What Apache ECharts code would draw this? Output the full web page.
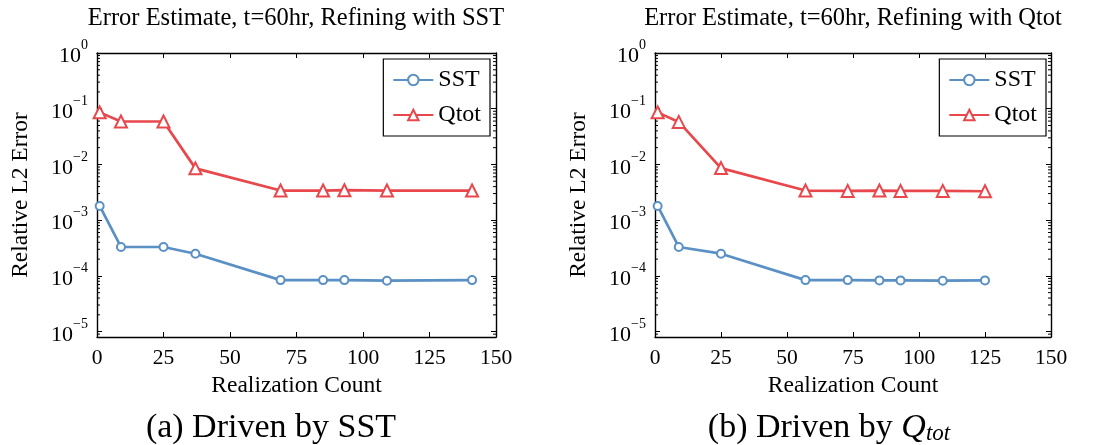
<!DOCTYPE html>
<html>
<head>
<meta charset="utf-8">
<script src="https://cdn.jsdelivr.net/npm/echarts@6/dist/echarts.min.js"></script>
<style>
  html, body { margin: 0; padding: 0; background: #fff; }
  #chart { width: 1094px; height: 445px; }
</style>
</head>
<body>
<div id="chart"></div>
<script>
// Realization counts and relative L2 errors for the two refinement runs
const countsA = [1, 9, 25, 37, 69, 85, 93, 109, 141];
const sstA    = [1.8e-3, 3.3e-4, 3.3e-4, 2.5e-4, 8.4e-5, 8.4e-5, 8.4e-5, 8.2e-5, 8.4e-5];
const qtotA   = [0.086, 0.059, 0.059, 8.5e-3, 3.4e-3, 3.4e-3, 3.45e-3, 3.4e-3, 3.4e-3];

const countsB = [1, 9, 25, 57, 73, 85, 93, 109, 125];
const sstB    = [1.8e-3, 3.3e-4, 2.5e-4, 8.4e-5, 8.4e-5, 8.3e-5, 8.3e-5, 8.2e-5, 8.3e-5];
const qtotB   = [0.086, 0.058, 8.6e-3, 3.4e-3, 3.35e-3, 3.4e-3, 3.35e-3, 3.35e-3, 3.3e-3];

const seriesNames = ['SST', 'Qtot'];
const titles = ['Error Estimate, t=60hr, Refining with SST', 'Error Estimate, t=60hr, Refining with Qtot'];
const xName = 'Realization Count';
const yName = 'Relative L2 Error';

// Axis ranges
const xMin = 0, xMax = 150, xStep = 25;
const yMin = 8e-6, yMax = 1;

// Minor log ticks (2..9 within each decade)
const minorTicks = [];
for (let k = -6; k < 0; k++) {
  for (let m = 2; m <= 9; m++) {
    const v = m * Math.pow(10, k);
    if (v > yMin && v < yMax) minorTicks.push(v);
  }
}

const FONT = 'Liberation Serif';
const BLUE = '#5a90c4';
const RED = '#e8474c';

const chart = echarts.init(document.getElementById('chart'), null, { renderer: 'canvas' });

const grids = [
  { left: 97, top: 53, width: 399, height: 284 },
  { left: 655, top: 53, width: 396, height: 284 }
];

function yLabel(v) {
  const l = Math.log10(v);
  const e = Math.round(l);
  if (Math.abs(l - e) > 1e-6) return '';
  return '{b|10}{e|' + (e < 0 ? '\u2212' + (-e) : e) + '}';
}

const xAxes = [];
const yAxes = [];
grids.forEach((g, i) => {
  const common = {
    gridIndex: i, type: 'value', min: xMin, max: xMax, interval: xStep,
    splitLine: { show: false },
    axisLine: { onZero: false, lineStyle: { color: '#000', width: 1.4 } },
    axisTick: { inside: true, length: 5, lineStyle: { color: '#000', width: 1 } }
  };
  xAxes.push(Object.assign({}, common, {
    position: 'bottom',
    name: xName, nameLocation: 'middle', nameGap: 37,
    nameTextStyle: { fontFamily: FONT, fontSize: 23.5, color: '#000' },
    axisLabel: { fontFamily: FONT, fontSize: 21.5, color: '#000', margin: 10 }
  }));
  xAxes.push(Object.assign({}, common, { position: 'top', axisLabel: { show: false } }));

  const ycommon = {
    gridIndex: i, type: 'log', logBase: 10, min: yMin, max: yMax,
    splitLine: { show: false },
    axisLine: { onZero: false, lineStyle: { color: '#000', width: 1.4 } },
    axisTick: { inside: true, length: 5, lineStyle: { color: '#000', width: 1 } }
  };
  yAxes.push(Object.assign({}, ycommon, {
    position: 'left',
    name: yName, nameLocation: 'middle', nameGap: 64, nameRotate: 90,
    nameTextStyle: { fontFamily: FONT, fontSize: 23.5, color: '#000' },
    axisLabel: {
      margin: 9, formatter: yLabel,
      rich: {
        b: { fontFamily: FONT, fontSize: 22, color: '#000', padding: [7, 0, 0, 0] },
        e: { fontFamily: FONT, fontSize: 14, color: '#000', verticalAlign: 'top' }
      }
    }
  }));
  yAxes.push(Object.assign({}, ycommon, { position: 'right', axisLabel: { show: false } }));
});

function minorTickSeries(i) {
  return {
    type: 'custom', xAxisIndex: i * 2, yAxisIndex: i * 2, silent: true, z: 5,
    data: minorTicks.map(v => [xMin, v]),
    renderItem: function (params, api) {
      const v = api.value(1);
      const pl = api.coord([xMin, v]);
      const pr = api.coord([xMax, v]);
      const st = { stroke: '#000', lineWidth: 1 };
      return {
        type: 'group',
        children: [
          { type: 'line', shape: { x1: pl[0], y1: pl[1], x2: pl[0] + 3, y2: pl[1] }, style: st },
          { type: 'line', shape: { x1: pr[0], y1: pr[1], x2: pr[0] - 3, y2: pr[1] }, style: st }
        ]
      };
    }
  };
}

function lineSeries(name, xs, ys, i, color, symbol, size) {
  return {
    name: name, type: 'line', xAxisIndex: i * 2, yAxisIndex: i * 2,
    data: xs.map((x, k) => [x, ys[k]]),
    symbol: symbol, symbolSize: size, showSymbol: true,
    lineStyle: { color: color, width: 2.7 },
    itemStyle: { color: color, borderColor: color, borderWidth: 2.6 },
    z: 10, animation: false
  };
}

const series = [
  minorTickSeries(0), minorTickSeries(1),
  lineSeries('SST', countsA, sstA, 0, BLUE, 'emptyCircle', 8),
  lineSeries('Qtot', countsA, qtotA, 0, RED, 'emptyTriangle', 12),
  lineSeries('SST', countsB, sstB, 1, BLUE, 'emptyCircle', 8),
  lineSeries('Qtot', countsB, qtotB, 1, RED, 'emptyTriangle', 12)
];

function legendAt(right) {
  return {
    orient: 'vertical', right: right, top: 59,
    data: seriesNames,
    backgroundColor: '#fff', borderColor: '#000', borderWidth: 1.2,
    padding: [9, 9, 9, 9], itemWidth: 40, itemHeight: 13, itemGap: 11,
    selectedMode: false,
    textStyle: { fontFamily: FONT, fontSize: 24, color: '#000', lineHeight: 22 }
  };
}

const textEl = (x, y, text, size, rich) => ({
  type: 'text', x: x, y: y,
  style: {
    text: text, fill: '#000', font: size + 'px "' + FONT + '"',
    fontFamily: FONT, fontSize: size,
    textAlign: 'center', textVerticalAlign: 'middle', rich: rich
  }
});

chart.setOption({
  animation: false,
  backgroundColor: '#fff',
  grid: grids,
  xAxis: xAxes,
  yAxis: yAxes,
  legend: [legendAt(604), legendAt(48)],
  series: series,
  graphic: [
    textEl(296, 19, titles[0], 24.5),
    textEl(853, 19, titles[1], 24.5),
    textEl(271, 428, '(a) Driven by SST', 34),
    textEl(829, 428, '(b) Driven by {q|Q}{s|tot}', 34, {
      q: { fontFamily: FONT, fontSize: 34, fontStyle: 'italic', fill: '#000' },
      s: { fontFamily: FONT, fontSize: 23, fontStyle: 'italic', fill: '#000', verticalAlign: 'bottom', padding: [10, 0, 0, 0] }
    })
  ]
});
</script>
</body>
</html>
